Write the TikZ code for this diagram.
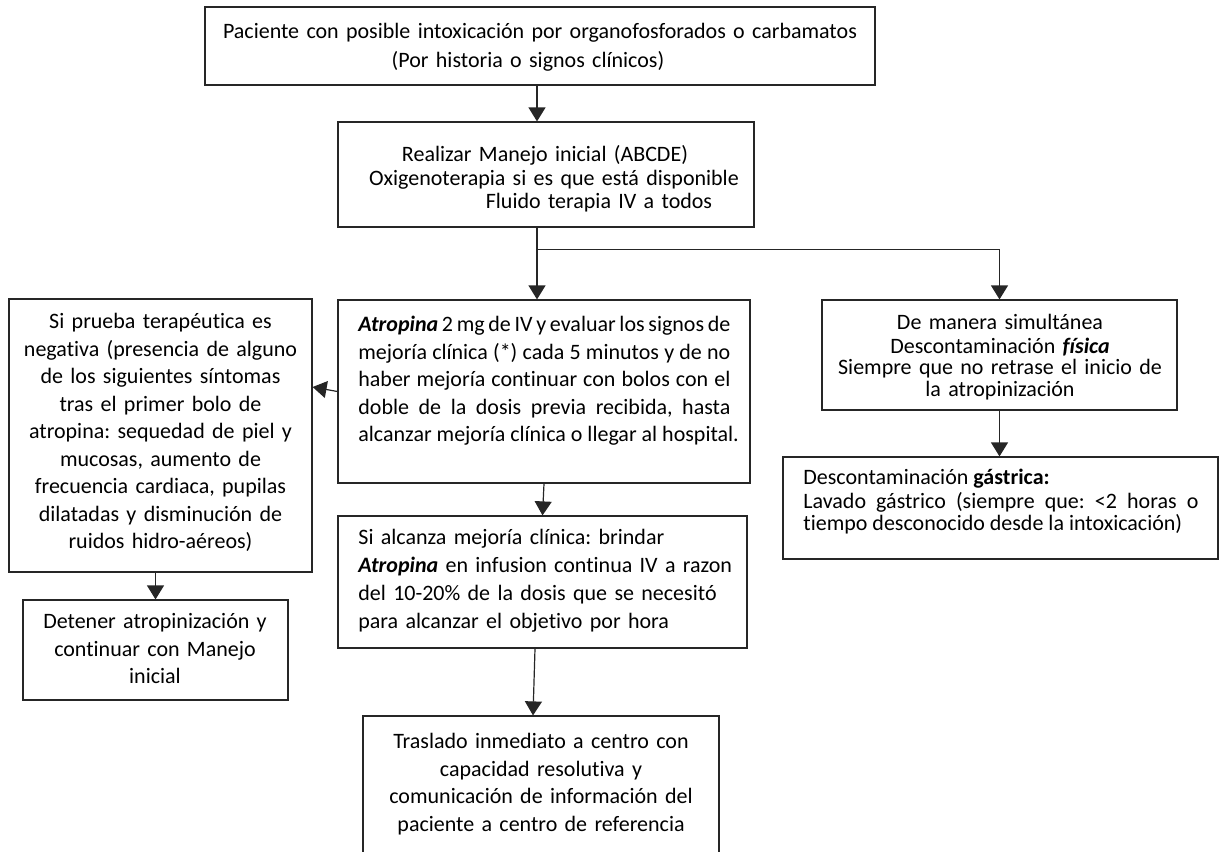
\documentclass[tikz,border=0pt]{standalone}
\usepackage{fontspec}
\setmainfont{Carlito}[Ligatures={NoCommon}]
\usetikzlibrary{arrows.meta}
\newcommand{\bi}[1]{\textbf{\textit{#1}}}
\frenchspacing
\begin{document}
\begin{tikzpicture}[x=0.5pt,y=-0.5pt,
  box/.style={draw=black!85, line width=0.6pt, inner sep=0pt},
  txt/.style={inner sep=0pt, anchor=north},
  txtl/.style={inner sep=0pt, anchor=north west},
  link/.style={draw=black!85, line width=0.6pt},
  arr/.style={link, -{Triangle[length=7pt,width=8.5pt]}},
  ]
\useasboundingbox (0,0) rectangle (1220,851);

% boxes
\node[box, minimum width=335pt,   minimum height=39pt]   (b1)  at (540,46)      {};
\node[box, minimum width=208pt,   minimum height=52.5pt] (b2)  at (546,174.5)   {};
\node[box, minimum width=206pt,   minimum height=91.5pt] (b3)  at (544,391.5)   {};
\node[box, minimum width=151.5pt, minimum height=136.5pt](lb)  at (160.5,435.5) {};
\node[box, minimum width=132.5pt, minimum height=50pt]   (det) at (155.5,650)   {};
\node[box, minimum width=204.5pt, minimum height=66pt]   (b4)  at (542.5,582)   {};
\node[box, minimum width=178pt,   minimum height=72pt]   (tr)  at (541,788)     {};
\node[box, minimum width=177.5pt, minimum height=55pt]   (rb)  at (999.5,355)   {};
\node[box, minimum width=217.5pt, minimum height=51pt]   (ga)  at (1000.5,508)  {};

% texts
\node[txt, text width=330pt, align=center, font=\fontsize{11}{14.5}\selectfont] (t1) at (540,18.2)
  {\strut Paciente con posible intoxicación por organofosforados o carbamatos\\
   \hspace*{-12pt}(Por historia o signos clínicos)};
\node[txt, text width=220pt, align=center, font=\fontsize{11}{11.75}\selectfont] (t2) at (540,145)
  {\strut\hspace*{5pt}Realizar Manejo inicial (ABCDE)\\
   \hspace*{14pt}Oxigenoterapia si es que está disponible\\
   \hspace*{59pt}Fluido terapia IV a todos};
\node[txtl, text width=186pt, align=justify, font=\fontsize{11}{13.75}\selectfont] (t3) at (358,312.25)
  {\strut\bi{Atropina} 2 mg de IV y evaluar los signos de\linebreak
   mejoría clínica (*) cada 5 minutos y de no\linebreak
   haber mejoría continuar con bolos con el\linebreak
   doble de la dosis previa recibida, hasta\linebreak
   \mbox{alcanzar mejoría clínica o llegar al hospital.}};
\node[txt, text width=145pt, align=center, font=\fontsize{11}{13.75}\selectfont] (tl) at (160.5,309.25)
  {\strut Si prueba terapéutica es\\
   negativa (presencia de alguno\\
   de los siguientes síntomas\\
   tras el primer bolo de\\
   atropina: sequedad de piel y\\
   mucosas, aumento de\\
   frecuencia cardiaca, pupilas\\
   dilatadas y disminución de\\
   ruidos hidro-aéreos)};
\node[txt, text width=130pt, align=center, font=\fontsize{11}{13.75}\selectfont] (td) at (155,609.25)
  {\strut Detener atropinización y\\
   continuar con Manejo\\
   inicial};
\node[txtl, text width=190pt, align=left, font=\fontsize{11}{13.9}\selectfont] (t4) at (358,525)
  {\strut Si alcanza mejoría clínica: brindar\\
   \bi{Atropina} en infusion continua IV a razon\\
   del 10-20\% de la dosis que se necesitó\\
   para alcanzar el objetivo por hora};
\node[txt, text width=176pt, align=center, font=\fontsize{11}{13.75}\selectfont] (tt) at (541,729.25)
  {\strut Traslado inmediato a centro con\\
   capacidad resolutiva y\\
   comunicación de información del\\
   paciente a centro de referencia};
\node[txt, text width=175pt, align=center, font=\fontsize{11}{10.75}\selectfont] (tr2) at (1000,313.45)
  {\strut De manera simultánea\\
   Descontaminación \bi{física}\\
   Siempre que no retrase el inicio de\\
   la atropinización};
\node[txtl, text width=197.5pt, align=justify, font=\fontsize{11}{10.75}\selectfont] (tg) at (803,468.45)
  {\strut Descontaminación \textbf{gástrica:}\\
   Lavado gástrico (siempre que: <2 horas o\linebreak
   tiempo desconocido desde la intoxicación)};

% connectors
\draw[arr] ([xshift=-1.5pt]b1.south) -- ([xshift=-4.5pt]b2.north);
\draw[link] ([xshift=-4.5pt]b2.south) -- ++(0,22) coordinate (split);
\draw[arr] (split) -- (split |- b3.north);
\draw[arr] (split) -| (rb.north);
\draw[arr] (b3.west) -- ([yshift=24.25pt]lb.east);
\draw[arr] (det.north |- lb.south) -- (det.north);
\draw[arr] (b3.south) -- (b4.north);
\draw[arr] ([xshift=-3.75pt]b4.south) -- ([xshift=-4pt]tr.north);
\draw[arr] (rb.south) -- (rb.south |- ga.north);
\end{tikzpicture}
\end{document}
